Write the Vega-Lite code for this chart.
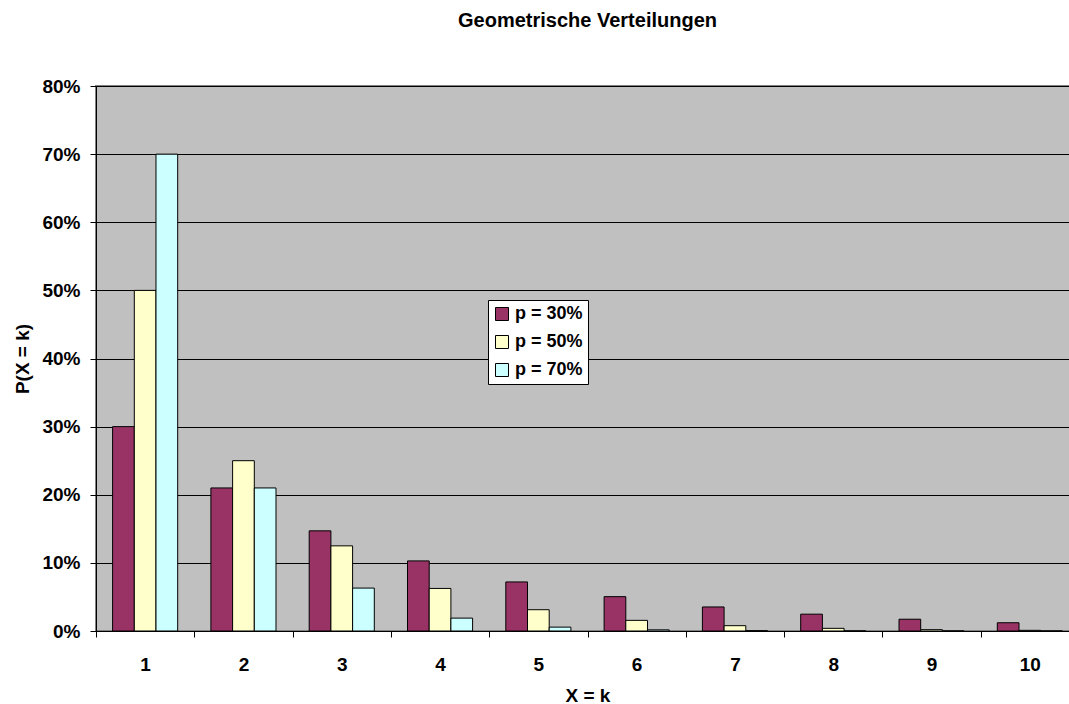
{
  "$schema": "https://vega.github.io/schema/vega-lite/v6.json",
  "autosize": "none",
  "width": 983,
  "height": 545,
  "padding": {"left": 96, "top": 86, "right": -10, "bottom": 73},
  "background": "white",
  "title": {
    "text": "Geometrische Verteilungen",
    "font": "Liberation Sans",
    "fontSize": 20,
    "fontWeight": "bold",
    "color": "black",
    "anchor": "middle",
    "frame": "group",
    "baseline": "alphabetic",
    "offset": 30
  },
  "config": {
    "view": {"fill": "#C0C0C0", "stroke": "#808080", "strokeWidth": 2},
    "font": "Liberation Sans"
  },
  "data": {
    "values": [
      {"k": 1, "p": "p = 30%", "v": 0.3},
      {"k": 2, "p": "p = 30%", "v": 0.21},
      {"k": 3, "p": "p = 30%", "v": 0.147},
      {"k": 4, "p": "p = 30%", "v": 0.1029},
      {"k": 5, "p": "p = 30%", "v": 0.07203},
      {"k": 6, "p": "p = 30%", "v": 0.05042},
      {"k": 7, "p": "p = 30%", "v": 0.03529},
      {"k": 8, "p": "p = 30%", "v": 0.02471},
      {"k": 9, "p": "p = 30%", "v": 0.01729},
      {"k": 10, "p": "p = 30%", "v": 0.01211},
      {"k": 1, "p": "p = 50%", "v": 0.5},
      {"k": 2, "p": "p = 50%", "v": 0.25},
      {"k": 3, "p": "p = 50%", "v": 0.125},
      {"k": 4, "p": "p = 50%", "v": 0.0625},
      {"k": 5, "p": "p = 50%", "v": 0.03125},
      {"k": 6, "p": "p = 50%", "v": 0.015625},
      {"k": 7, "p": "p = 50%", "v": 0.0078125},
      {"k": 8, "p": "p = 50%", "v": 0.0039},
      {"k": 9, "p": "p = 50%", "v": 0.00195},
      {"k": 10, "p": "p = 50%", "v": 0.00098},
      {"k": 1, "p": "p = 70%", "v": 0.7},
      {"k": 2, "p": "p = 70%", "v": 0.21},
      {"k": 3, "p": "p = 70%", "v": 0.063},
      {"k": 4, "p": "p = 70%", "v": 0.0189},
      {"k": 5, "p": "p = 70%", "v": 0.00567},
      {"k": 6, "p": "p = 70%", "v": 0.0017},
      {"k": 7, "p": "p = 70%", "v": 0.00051},
      {"k": 8, "p": "p = 70%", "v": 0.00015},
      {"k": 9, "p": "p = 70%", "v": 0.00005},
      {"k": 10, "p": "p = 70%", "v": 0.00001}
    ]
  },
  "mark": {"type": "bar", "stroke": "black", "strokeWidth": 1},
  "encoding": {
    "x": {
      "field": "k",
      "type": "ordinal",
      "scale": {"paddingInner": 0, "paddingOuter": 0},
      "axis": {
        "title": "X = k",
        "labelAngle": 0,
        "tickBand": "extent",
        "tickSize": 6,
        "tickColor": "black",
        "domainColor": "black",
        "labelFont": "Liberation Sans",
        "labelFontSize": 19,
        "labelFontWeight": "bold",
        "labelColor": "black",
        "labelPadding": 18,
        "titleFont": "Liberation Sans",
        "titleFontSize": 19,
        "titleFontWeight": "bold",
        "titleColor": "black",
        "titleBaseline": "alphabetic",
        "titleY": 70,
        "titleX": 491.5
      }
    },
    "xOffset": {
      "field": "p",
      "type": "nominal",
      "sort": ["p = 30%", "p = 50%", "p = 70%"],
      "scale": {"paddingInner": 0, "paddingOuter": 0.765}
    },
    "y": {
      "field": "v",
      "type": "quantitative",
      "scale": {"domain": [0, 0.8], "nice": false},
      "axis": {
        "title": "P(X = k)",
        "values": [0, 0.1, 0.2, 0.3, 0.4, 0.5, 0.6, 0.7, 0.8],
        "format": ".0%",
        "grid": true,
        "gridColor": "black",
        "gridOpacity": 1,
        "tickSize": 6,
        "tickColor": "black",
        "domainColor": "black",
        "labelFont": "Liberation Sans",
        "labelFontSize": 19,
        "labelFontWeight": "bold",
        "labelColor": "black",
        "labelPadding": 10,
        "titleFont": "Liberation Sans",
        "titleFontSize": 19,
        "titleFontWeight": "bold",
        "titleColor": "black",
        "titleBaseline": "middle",
        "titleAlign": "center",
        "titleX": -74,
        "titleY": 272.5
      }
    },
    "color": {
      "field": "p",
      "type": "nominal",
      "sort": ["p = 30%", "p = 50%", "p = 70%"],
      "scale": {"domain": ["p = 30%", "p = 50%", "p = 70%"], "range": ["#993366", "#FFFFCC", "#CCFFFF"]},
      "legend": {
        "title": null,
        "orient": "none",
        "legendX": 392,
        "legendY": 214,
        "fillColor": "white",
        "strokeColor": "black",
        "padding": 5,
        "symbolType": "square",
        "symbolSize": 169,
        "symbolStrokeColor": "black",
        "symbolStrokeWidth": 1,
        "symbolOpacity": 1,
        "labelFont": "Liberation Sans",
        "labelFontSize": 18,
        "labelFontWeight": "bold",
        "labelColor": "black",
        "labelOffset": 4,
        "rowPadding": 10
      }
    }
  }
}
